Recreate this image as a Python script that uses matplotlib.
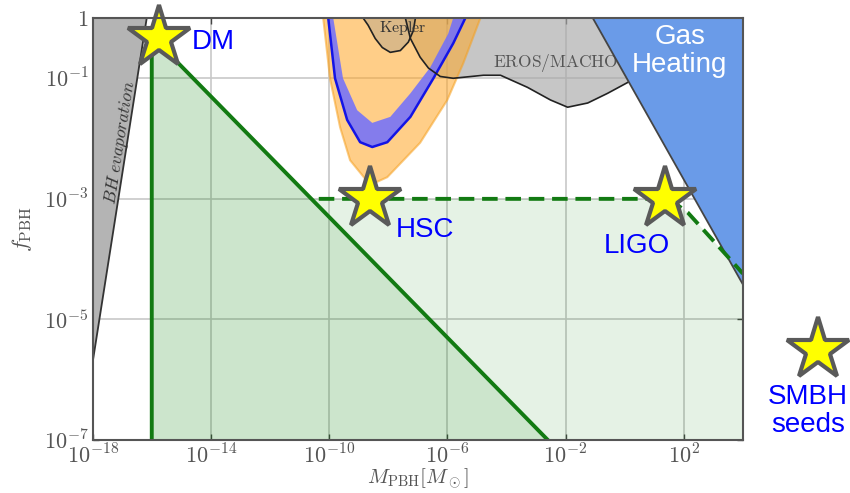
import numpy as np
import matplotlib
matplotlib.use("Agg")
import matplotlib.pyplot as plt

plt.rcParams["mathtext.fontset"] = "cm"
plt.rcParams["font.family"] = ["Liberation Sans", "DejaVu Sans"]

# ------------------------------------------------------------
# constraint curves, all as log10(M/Msun) and log10(f_PBH)
# ------------------------------------------------------------
XMIN, XMAX = -18, 4
YMIN, YMAX = -7, 0

# BH evaporation bound (grey wedge at the light end)
bh_logm = [-18.0, -16.17, -18.0]
bh_logf = [-5.71, 0.0, 0.0]

# monochromatic DM window: vertical edge + f ~ M^-1/2 fall-off
dm_logm = [-16.0, -16.0, -2.6]
dm_logf = [-7.0, -0.3, -7.0]

# dashed envelope reaching the LIGO point
env_logm = [-10.35, 1.5, 2.14, 3.49, 4.0]
env_logf = [-3.0, -3.0, -3.23, -3.96, -4.24]

# HSC microlensing (orange) outer boundary
hsc_logm = [-10.20, -9.97, -9.63, -9.29, -8.61, -8.03, -6.92, -6.00, -5.46, -4.88]
hsc_logf = [0.0, -1.0, -1.81, -2.36, -2.77, -2.64, -2.07, -1.36, -0.75, 0.0]

# blue band inside the HSC region
band_out_logm = [-10.03, -9.80, -9.39, -8.95, -8.54, -8.03, -7.25, -6.47, -5.80, -5.39]
band_out_logf = [0.0, -1.0, -1.69, -2.06, -2.14, -2.06, -1.64, -1.0, -0.42, 0.0]
band_in_logm = [-9.86, -9.53, -9.05, -8.54, -7.93, -7.25, -6.58, -5.97, -5.80]
band_in_logf = [0.0, -1.0, -1.53, -1.74, -1.64, -1.25, -0.82, -0.26, 0.0]

# Kepler
kep_logm = [-8.85, -8.68, -8.44, -8.20, -7.93, -7.59, -7.32, -7.15, -7.08]
kep_logf = [0.0, -0.12, -0.34, -0.49, -0.57, -0.54, -0.40, -0.21, 0.0]

# EROS/MACHO lower edge
eros_logm = [-7.42, -7.25, -6.92, -6.64, -6.24, -5.80, -4.78, -4.20, -3.29,
             -2.51, -1.93, -1.25, -0.58, 0.10, 0.80]
eros_logf = [0.0, -0.34, -0.65, -0.83, -0.97, -1.0, -0.95, -0.95, -1.15,
             -1.36, -1.48, -1.41, -1.25, -1.07, -0.85]

# gas heating triangle
gas_logm = [-1.08, 4.0, 4.0]
gas_logf = [0.0, 0.0, -4.42]

# highlighted scenarios
star_names = ["DM", "HSC", "LIGO", "SMBH\nseeds"]
star_logm = [-15.75, -8.6, 1.35, 6.55]
star_logf = [-0.34, -3.0, -3.0, -5.5]
label_logm = [-14.64, -7.76, 0.41, 6.2]
label_logf = [-0.40, -3.51, -3.79, -6.52]
label_ha = ["left", "left", "center", "center"]


def p(v):
    return 10.0 ** np.asarray(v, dtype=float)


fig = plt.figure(figsize=(8.5, 4.93), dpi=100)
ax = fig.add_axes([0.109, 0.1075, 0.765, 0.856])
ax.set_xscale("log")
ax.set_yscale("log")
ax.set_xlim(p(XMIN), p(XMAX))
ax.set_ylim(p(YMIN), p(YMAX))

green = "#127a12"

# green allowed regions
ax.fill_between(p([-16.0, -2.6]), p([-0.3, -7.0]), p(YMIN),
                color="green", alpha=0.2, lw=0, zorder=1)
light_x = [-10.6, -2.6, 4.0] + env_logm[::-1]
light_y = [-3.0, -7.0, -7.0] + env_logf[::-1]
ax.fill(p(light_x), p(light_y), color="green", alpha=0.1, lw=0, zorder=1)

# grey bounds
ax.fill(p(bh_logm), p(bh_logf), color="#b4b4b4", lw=0, zorder=2)
ax.plot(p(bh_logm[:2]), p(bh_logf[:2]), color="#333333", lw=1.3, zorder=2.1)

eros_x = eros_logm + [eros_logm[-1], eros_logm[0]]
eros_y = eros_logf + [0.0, 0.0]
ax.fill(p(eros_x), p(eros_y), color="#a8a8a8", alpha=0.65, lw=0, zorder=2)
ax.plot(p(eros_logm), p(eros_logf), color="#222222", lw=1.2, zorder=4.6)
ax.text(p(-4.47), p(-0.74), r"$\mathrm{EROS/MACHO}$", fontsize=12.5,
        color="#555555", ha="left", va="center", zorder=2.5)

# HSC
ax.fill(p(hsc_logm), p(hsc_logf), facecolor="#ffa726", alpha=0.55,
        edgecolor="#f5a020", lw=1.5, zorder=3)
band_x = band_out_logm + band_in_logm[::-1]
band_y = band_out_logf + band_in_logf[::-1]
ax.fill(p(band_x), p(band_y), color="#6e6eff", alpha=0.85, lw=0, zorder=4)
ax.plot(p(band_out_logm), p(band_out_logf), color="#1414e6", lw=1.8, zorder=4.2)

# Kepler
ax.fill(p(kep_logm), p(kep_logf), color="#8a8a8a", alpha=0.3, lw=0, zorder=4.4)
ax.plot(p(kep_logm), p(kep_logf), color="#222222", lw=1.2, zorder=4.6)
ax.text(p(-7.49), p(-0.16), r"$\mathrm{Kepler}$", fontsize=11.5,
        color="#333333", ha="center", va="center", zorder=4.7)

# gas heating
ax.fill(p(gas_logm), p(gas_logf), facecolor="#6a9be8", lw=0, zorder=5)
ax.plot(p([gas_logm[0], gas_logm[2]]), p([gas_logf[0], gas_logf[2]]),
        color="#444444", lw=1.3, zorder=5.1)
ax.text(p(1.86), p(-0.54), "Gas\nHeating", fontsize=20, color="white",
        ha="center", va="center", linespacing=1.1, zorder=5.2)

# BH evaporation label
ax.text(p(-17.05), p(-2.07), r"$BH\ evaporation$", fontsize=12.5,
        color="#333333", rotation=81, ha="center", va="center", zorder=2.5)

# green boundaries
ax.plot(p(dm_logm), p(dm_logf), color=green, lw=2.8, zorder=6)
ax.plot(p(env_logm), p(env_logf), color=green, lw=2.8, ls=(0, (4, 2)),
        zorder=6)

# stars and labels
ax.plot(p(star_logm), p(star_logf), ls="none", marker="*", ms=47,
        mfc="#ffff00", mec="#5a5a5a", mew=3, clip_on=False, zorder=7)
for name, lx, ly, ha in zip(star_names, label_logm, label_logf, label_ha):
    ax.text(p(lx), p(ly), name, fontsize=20, color="#0000ff", ha=ha,
            va="center", linespacing=1.1, zorder=8)

# axes styling
ax.set_xticks(p([-18, -14, -10, -6, -2, 2]))
ax.set_xticklabels([r"$10^{-18}$", r"$10^{-14}$", r"$10^{-10}$",
                    r"$10^{-6}$", r"$10^{-2}$", r"$10^{2}$"])
ax.set_yticks(p([-7, -5, -3, -1, 0]))
ax.set_yticklabels([r"$10^{-7}$", r"$10^{-5}$", r"$10^{-3}$",
                    r"$10^{-1}$", r"$1$"])
ax.minorticks_off()
ax.tick_params(direction="in", length=4, width=1, color="#444444",
               labelcolor="#555555", labelsize=16, top=True, right=True, pad=3)
ax.grid(True, color="#c8c8c8", lw=1.2, zorder=0.5)
ax.set_axisbelow(True)
for s in ax.spines.values():
    s.set_color("#555555")
    s.set_linewidth(1.5)
    s.set_zorder(9)

ax.set_xlabel(r"$M_{\rm PBH}[M_\odot]$", fontsize=15, color="#555555",
              labelpad=-1)
ax.set_ylabel(r"$f_{\rm PBH}$", fontsize=16, color="#555555", labelpad=7)

fig.savefig("out.png", dpi=100)
